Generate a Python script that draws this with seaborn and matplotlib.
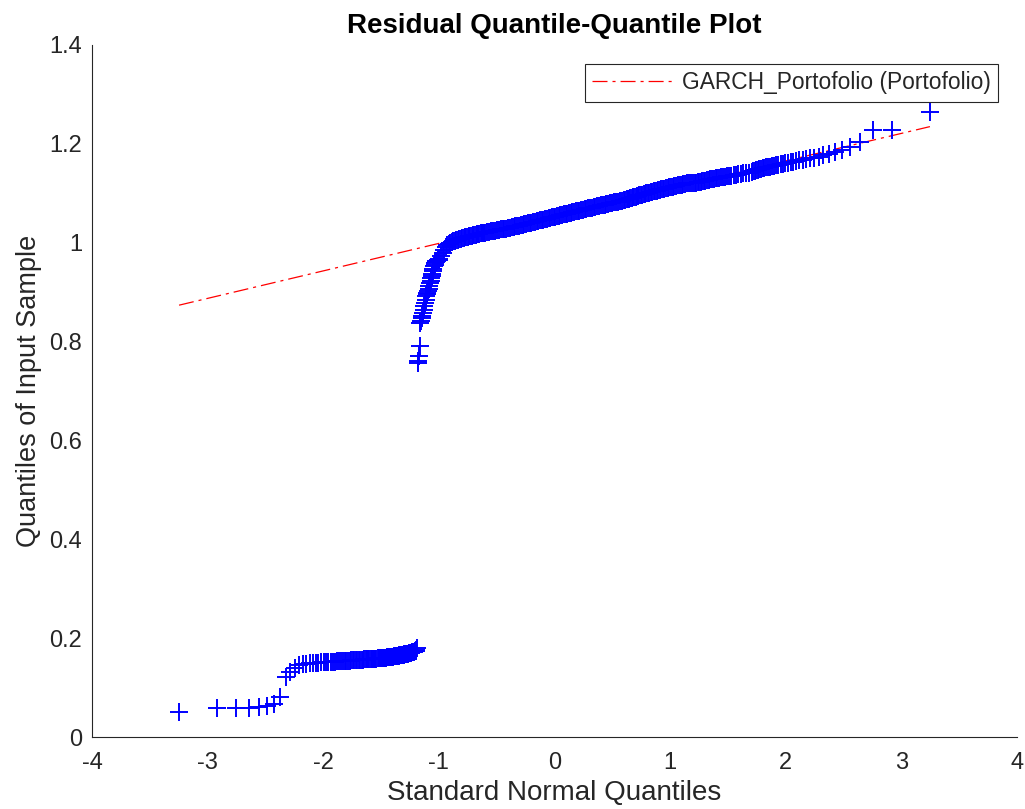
import statistics
import matplotlib
matplotlib.use("Agg")
import matplotlib.pyplot as plt
import numpy as np
import pandas as pd
import seaborn as sns

# ---------------- data ----------------
N_SAMPLE = 850  # size of the residual sample

# sorted sample quantiles, lower cluster (ranks 1..100, every rank)
lower_vals = [0.050, 0.059, 0.059, 0.059, 0.061, 0.063, 0.066, 0.080, 0.121, 0.132,
              0.139, 0.145, 0.147, 0.148, 0.149, 0.149, 0.150, 0.150, 0.151, 0.151,
              0.151, 0.152, 0.152, 0.152, 0.152, 0.153, 0.153, 0.153, 0.153, 0.154,
              0.154, 0.154, 0.154, 0.155, 0.155, 0.155, 0.155, 0.156, 0.156, 0.156,
              0.156, 0.156, 0.157, 0.157, 0.157, 0.157, 0.157, 0.158, 0.158, 0.158,
              0.158, 0.158, 0.158, 0.159, 0.159, 0.159, 0.159, 0.159, 0.160, 0.160,
              0.160, 0.160, 0.161, 0.161, 0.161, 0.161, 0.162, 0.162, 0.162, 0.162,
              0.163, 0.163, 0.163, 0.164, 0.164, 0.164, 0.165, 0.165, 0.165, 0.166,
              0.166, 0.166, 0.167, 0.167, 0.167, 0.168, 0.168, 0.168, 0.169, 0.169,
              0.170, 0.170, 0.171, 0.171, 0.172, 0.172, 0.173, 0.174, 0.176, 0.180]

# steep rise of the upper cluster (ranks 101..135, every rank)
steep_vals = [0.756, 0.760, 0.770, 0.790, 0.837, 0.842, 0.848, 0.852, 0.858, 0.864,
              0.871, 0.878, 0.884, 0.891, 0.895, 0.898, 0.902, 0.905, 0.912, 0.918,
              0.922, 0.927, 0.932, 0.937, 0.942, 0.947, 0.952, 0.955, 0.958, 0.960,
              0.962, 0.963, 0.964, 0.965, 0.965]

# knee (ranks 136..232, every 3rd rank)
knee_vals = [0.966, 0.972, 0.978, 0.985, 0.990, 0.994, 0.997, 0.999, 1.001, 1.002,
             1.003, 1.004, 1.005, 1.006, 1.007, 1.008, 1.009, 1.010, 1.011, 1.011,
             1.012, 1.013, 1.013, 1.014, 1.015, 1.015, 1.016, 1.016, 1.017, 1.018,
             1.018, 1.019, 1.019]

# centre of the upper band (ranks 233..613, every 5th rank)
centre_vals = [1.019, 1.020, 1.021, 1.022, 1.022, 1.023, 1.024, 1.025, 1.026, 1.027,
               1.028, 1.028, 1.029, 1.030, 1.031, 1.032, 1.033, 1.034, 1.034, 1.035,
               1.036, 1.037, 1.038, 1.039, 1.040, 1.040, 1.041, 1.042, 1.043, 1.044,
               1.045, 1.046, 1.046, 1.047, 1.048, 1.049, 1.050, 1.051, 1.051, 1.052,
               1.053, 1.054, 1.055, 1.056, 1.057, 1.057, 1.058, 1.059, 1.060, 1.061,
               1.062, 1.063, 1.063, 1.064, 1.065, 1.066, 1.067, 1.068, 1.069, 1.069,
               1.070, 1.071, 1.072, 1.073, 1.074, 1.075, 1.075, 1.076, 1.077, 1.078,
               1.079, 1.080, 1.081, 1.081, 1.082, 1.083, 1.084]

# upper band right part (ranks 618..750, every 3rd rank)
right_vals = [1.085, 1.086, 1.087, 1.087, 1.088, 1.089, 1.090, 1.091, 1.091, 1.092,
              1.093, 1.094, 1.095, 1.095, 1.096, 1.097, 1.098, 1.099, 1.099, 1.100,
              1.101, 1.102, 1.103, 1.103, 1.104, 1.105, 1.106, 1.107, 1.107, 1.108,
              1.109, 1.110, 1.111, 1.111, 1.112, 1.113, 1.114, 1.115, 1.115, 1.116,
              1.117, 1.118, 1.119, 1.119, 1.120]

# shoulder (ranks 753..813, every 2nd rank)
shoulder_vals = [1.120, 1.121, 1.121, 1.122, 1.123, 1.123, 1.124, 1.125, 1.125, 1.126,
                 1.127, 1.128, 1.128, 1.129, 1.130, 1.130, 1.131, 1.132, 1.132, 1.133,
                 1.134, 1.135, 1.135, 1.136, 1.137, 1.138, 1.139, 1.140, 1.140, 1.141,
                 1.142]

# upper tail (ranks 814..850, every rank)
upper_tail_vals = [1.144, 1.145, 1.146, 1.147, 1.148, 1.149, 1.150, 1.151, 1.152, 1.153,
                   1.153, 1.154, 1.155, 1.156, 1.157, 1.158, 1.159, 1.160, 1.161, 1.162,
                   1.163, 1.164, 1.166, 1.167, 1.168, 1.170, 1.171, 1.173, 1.176, 1.179,
                   1.183, 1.187, 1.193, 1.202, 1.227, 1.227, 1.263]

# (first rank, rank step, values)
segments = [(1, 1, lower_vals), (101, 1, steep_vals), (136, 3, knee_vals),
            (233, 5, centre_vals), (618, 3, right_vals), (753, 2, shoulder_vals),
            (814, 1, upper_tail_vals)]

# reference line (red dash-dot) end points
ref_x = [-3.247, 3.247]
ref_y = [0.873, 1.234]

xtick_vals = [-4, -3, -2, -1, 0, 1, 2, 3, 4]
xtick_labels = ["-4", "-3", "-2", "-1", "0", "1", "2", "3", "4"]
ytick_vals = [0, 0.2, 0.4, 0.6, 0.8, 1.0, 1.2, 1.4]
ytick_labels = ["0", "0.2", "0.4", "0.6", "0.8", "1", "1.2", "1.4"]

title = "Residual Quantile-Quantile Plot"
xlabel = "Standard Normal Quantiles"
ylabel = "Quantiles of Input Sample"
legend_label = "GARCH_Portofolio (Portofolio)"

# ---------------- build the QQ table ----------------
nd = statistics.NormalDist()
xs, ys = [], []
for start, step, vals in segments:
    for k, v in enumerate(vals):
        r = start + step * k
        xs.append(nd.inv_cdf((r - 0.5) / N_SAMPLE))
        ys.append(v)
df = pd.DataFrame({"theoretical": xs, "sample": ys})
ref_df = pd.DataFrame({"x": ref_x, "y": ref_y})

# ---------------- style ----------------
sns.set_theme(style="white")
plt.rcParams["font.family"] = ["Liberation Sans", "DejaVu Sans"]
plt.rcParams["axes.unicode_minus"] = False
plt.rcParams["lines.scale_dashes"] = False
dark = "#262626"

fig = plt.figure(figsize=(10.25, 8.09), dpi=100)
ax = fig.add_axes([92 / 1025, 1 - 737 / 809, 925 / 1025, (737 - 44.5) / 809])

sns.lineplot(data=ref_df, x="x", y="y", ax=ax, color="red", linewidth=0.9,
             linestyle=(0, (10.8, 3.6, 2.2, 3.6)), label=legend_label, zorder=1,
             sort=False, estimator=None)
sns.scatterplot(data=df, x="theoretical", y="sample", ax=ax, marker="+",
                color="blue", s=160, linewidth=1.4, legend=False, zorder=2)

ax.set_xlim(-4, 4)
ax.set_ylim(0, 1.4)
ax.set_xticks(xtick_vals)
ax.set_xticklabels(xtick_labels)
ax.set_yticks(ytick_vals)
ax.set_yticklabels(ytick_labels)
ax.tick_params(direction="in", length=7, width=0.8, color=dark,
               labelcolor=dark, labelsize=17)
ax.tick_params(axis="x", pad=11)
ax.tick_params(axis="y", pad=7)
for side in ["top", "right"]:
    ax.spines[side].set_visible(False)
for side in ["left", "bottom"]:
    ax.spines[side].set_color(dark)
    ax.spines[side].set_linewidth(0.8)
ax.grid(False)

ax.set_title(title, fontsize=20, fontweight="bold", color="black", pad=8)
ax.set_xlabel(xlabel, fontsize=20, color=dark, labelpad=4)
ax.set_ylabel(ylabel, fontsize=19.5, color=dark, labelpad=5)

leg = ax.legend(loc="upper right", bbox_to_anchor=(0.9795, 0.9718),
                borderaxespad=0, frameon=True, fancybox=False, framealpha=1,
                edgecolor=dark, fontsize=16.4, handlelength=3.5,
                borderpad=0.32, handletextpad=0.45)
leg.get_frame().set_linewidth(0.8)
for t in leg.get_texts():
    t.set_color(dark)

fig.savefig("out.png", dpi=100)
